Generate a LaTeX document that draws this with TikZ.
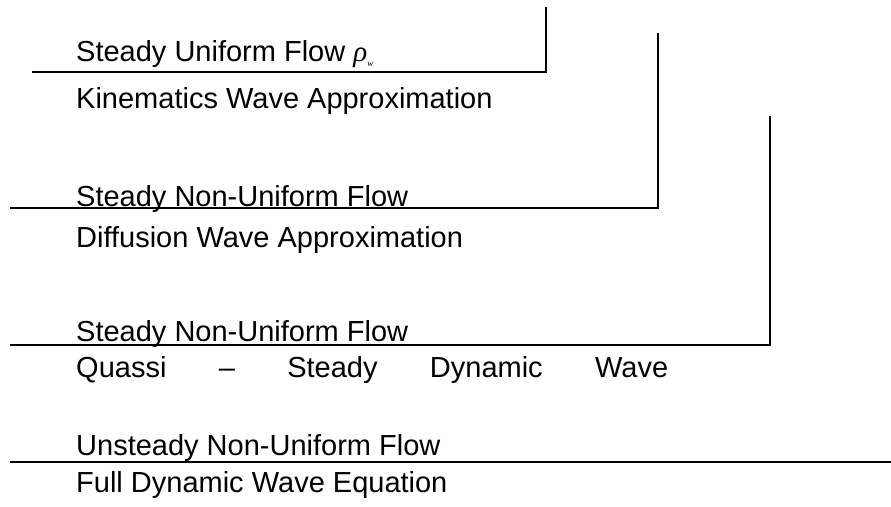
\documentclass[tikz,border=0pt]{standalone}
\usepackage{fontspec}
\setmainfont{Liberation Sans}
\newfontfamily\greekserif{Liberation Serif}
% italic rho with a very small lowered subscript w
\newcommand{\rhow}{{\greekserif\itshape ρ\raisebox{-5pt}{\fontsize{9}{9}\selectfont w}}}
\begin{document}
\begin{tikzpicture}[x=1pt, y=-1pt,
  rule/.style={line width=1.6pt, black},
  label/.style={anchor=base west, inner sep=0pt, font=\fontsize{29}{29}\selectfont}]
  \useasboundingbox (0,0) rectangle (891,506);

  % flow-type labels and approximation names
  \node[label] (t1) at (76,61)  {Steady Uniform Flow \rhow};
  \node[label] (a1) at (76,108) {Kinematics Wave Approximation};
  \node[label] (t2) at (76,206) {Steady Non-Uniform Flow};
  \node[label] (a2) at (76,247) {Diffusion Wave Approximation};
  \node[label] (t3) at (76,341) {Steady Non-Uniform Flow};
  \node[label] (a3) at (76,377) {\makebox[592pt][s]{Quassi – Steady Dynamic Wave}};
  \node[label] (t4) at (76,455) {Unsteady Non-Uniform Flow};
  \node[label] (a4) at (76,492) {Full Dynamic Wave Equation};

  % bracket corners
  \coordinate (c1) at (546,72);
  \coordinate (c2) at (658,208);
  \coordinate (c3) at (770,345);

  \draw[rule] (32,72)  -- (c1) -- (546,7);
  \draw[rule] (10,208) -- (c2) -- (658,33);
  \draw[rule] (10,345) -- (c3) -- (770,116);
  \draw[rule] (10,462) -- (891,462);
\end{tikzpicture}
\end{document}
